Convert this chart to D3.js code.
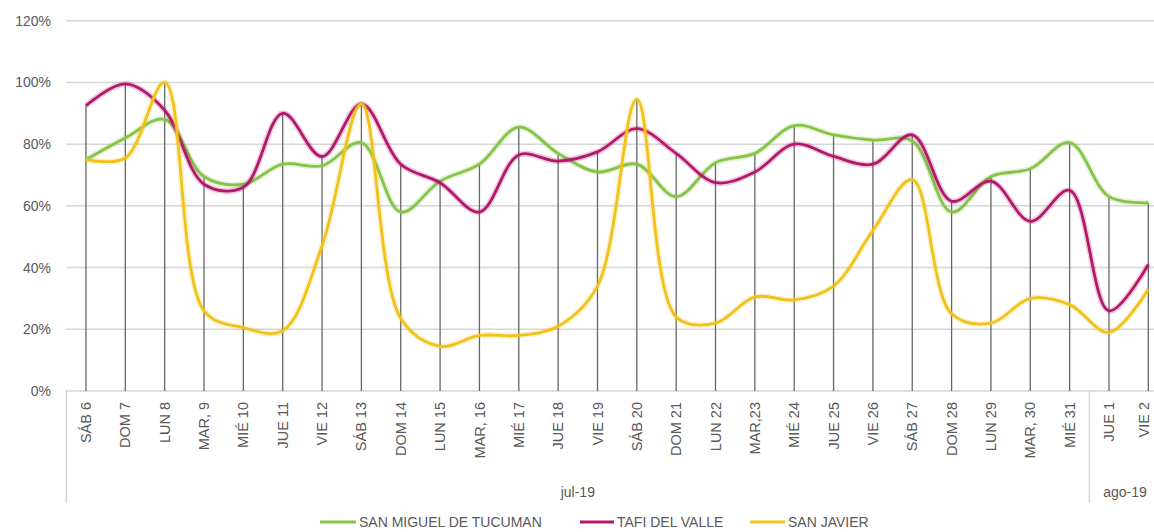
<!DOCTYPE html>
<html>
<head>
<meta charset="utf-8">
<script src="https://cdn.jsdelivr.net/npm/d3@7"></script>
<style>
  html, body { margin: 0; padding: 0; background: #fff; }
  svg { display: block; }
  text { font-family: "Liberation Sans", Arial, sans-serif; fill: #595959; }
</style>
</head>
<body>
<svg id="chart" width="1154" height="532"></svg>
<script>
const categories = ["SÁB 6","DOM 7","LUN 8","MAR, 9","MIÉ 10","JUE 11","VIE 12","SÁB 13","DOM 14","LUN 15","MAR, 16","MIÉ 17","JUE 18","VIE 19","SÁB 20","DOM 21","LUN 22","MAR,23","MIÉ 24","JUE 25","VIE 26","SÁB 27","DOM 28","LUN 29","MAR, 30","MIÉ 31","JUE 1","VIE 2"];
const months = ["jul-19","ago-19"];
const monthCounts = [26, 2];
const seriesNames = ["SAN MIGUEL DE TUCUMAN","TAFI DEL VALLE","SAN JAVIER"];
const sanMiguel = [0.75,0.82,0.88,0.695,0.67,0.735,0.73,0.805,0.58,0.68,0.735,0.855,0.77,0.71,0.735,0.63,0.74,0.77,0.86,0.83,0.813,0.81,0.58,0.695,0.72,0.805,0.63,0.61];
const tafi = [0.925,0.995,0.91,0.67,0.66,0.90,0.76,0.93,0.735,0.675,0.58,0.765,0.745,0.775,0.85,0.77,0.675,0.71,0.80,0.76,0.735,0.83,0.615,0.68,0.55,0.65,0.26,0.41];
const sanJavier = [0.75,0.755,1.00,0.26,0.205,0.195,0.47,0.93,0.235,0.145,0.18,0.18,0.21,0.34,0.945,0.24,0.22,0.305,0.295,0.34,0.52,0.685,0.25,0.22,0.30,0.28,0.19,0.33];
const yTicks = [0,0.2,0.4,0.6,0.8,1.0,1.2];
const colors = ["#86c347","#b3186a","#f1c21b"];

const svg = d3.select("#chart");
const x = d3.scaleBand().domain(categories).range([66.3, 1168]).padding(0);
const cx = d => x(d) + x.bandwidth() / 2;
const y = d3.scaleLinear().domain([0, 1.2]).range([391, 20.7]);

// horizontal gridlines
svg.append("g").selectAll("line").data(yTicks.slice(1)).join("line")
  .attr("x1", 66).attr("x2", 1154)
  .attr("y1", d => y(d)).attr("y2", d => y(d))
  .attr("stroke", "#d6d6d6").attr("stroke-width", 1.5);

// y axis labels
const yAxis = svg.append("g").attr("transform", "translate(51,0)")
  .call(d3.axisLeft(y).tickValues(yTicks).tickFormat(d3.format(".0%")).tickSize(0).tickPadding(0));
yAxis.select(".domain").remove();
yAxis.selectAll("text").style("font-size", "14px").style("font-family", "Liberation Sans, Arial, sans-serif").attr("fill", "#595959");

// x axis baseline and separators
svg.append("line").attr("x1", 65).attr("x2", 1154).attr("y1", y(0)).attr("y2", y(0))
  .attr("stroke", "#d6d6d6").attr("stroke-width", 1.5);
let acc = 0;
const seps = [0];
monthCounts.forEach(c => { acc += c; seps.push(acc); });
svg.append("g").selectAll("line").data(seps.slice(0, -1)).join("line")
  .attr("x1", i => x(categories[i]))
  .attr("x2", i => x(categories[i]))
  .attr("y1", y(0)).attr("y2", 503)
  .attr("stroke", "#d6d6d6").attr("stroke-width", 1.5);

// drop lines
const maxVals = categories.map((c, i) => Math.max(sanMiguel[i], tafi[i], sanJavier[i]));
svg.append("g").selectAll("line").data(categories).join("line")
  .attr("x1", d => cx(d)).attr("x2", d => cx(d))
  .attr("y1", (d, i) => y(maxVals[i])).attr("y2", y(0))
  .attr("stroke", "#666").attr("stroke-width", 1.3);

// x axis labels
const xAxis = svg.append("g").attr("transform", `translate(0,${y(0)})`)
  .call(d3.axisBottom(x).tickSize(0).tickPadding(0));
xAxis.select(".domain").remove();
xAxis.selectAll("text")
  .style("font-size", "14.5px").style("font-family", "Liberation Sans, Arial, sans-serif")
  .attr("fill", "#595959")
  .attr("transform", "rotate(-90)")
  .attr("text-anchor", "end")
  .attr("x", -11)
  .attr("y", (d, i) => i === categories.length - 1 ? -4 : 0)
  .attr("dy", "0.35em");

// month labels
let start = 0;
months.forEach((m, k) => {
  const a = x(categories[start]);
  const last = categories[start + monthCounts[k] - 1];
  const b = x(last) + x.bandwidth();
  svg.append("text").attr("x", k === 1 ? 1125 : (a + b) / 2).attr("y", 497)
    .attr("text-anchor", "middle").style("font-size", "14px").text(m);
  start += monthCounts[k];
});

// series lines
const line = d3.line().x((d, i) => cx(categories[i])).y(d => y(d)).curve(d3.curveCatmullRom.alpha(0.5));
[sanMiguel, tafi, sanJavier].forEach((s, k) => {
  svg.append("path").datum(s).attr("d", line)
    .attr("fill", "none").attr("stroke", colors[k]).attr("opacity", 0.22)
    .attr("stroke-width", 6);
  svg.append("path").datum(s).attr("d", line)
    .attr("fill", "none").attr("stroke", colors[k]).attr("stroke-width", 2.8)
    .attr("stroke-linejoin", "round");
});

// legend
const legendItems = [
  { name: seriesNames[0], x1: 320, tx: 359 },
  { name: seriesNames[1], x1: 580, tx: 617 },
  { name: seriesNames[2], x1: 750, tx: 788 }
];
legendItems.forEach((it, k) => {
  svg.append("line").attr("x1", it.x1).attr("x2", it.tx - 3).attr("y1", 522).attr("y2", 522)
    .attr("stroke", colors[k]).attr("stroke-width", 2.8);
  svg.append("text").attr("x", it.tx).attr("y", 522).attr("dy", "0.35em")
    .style("font-size", "14px").text(it.name);
});
</script>
</body>
</html>
